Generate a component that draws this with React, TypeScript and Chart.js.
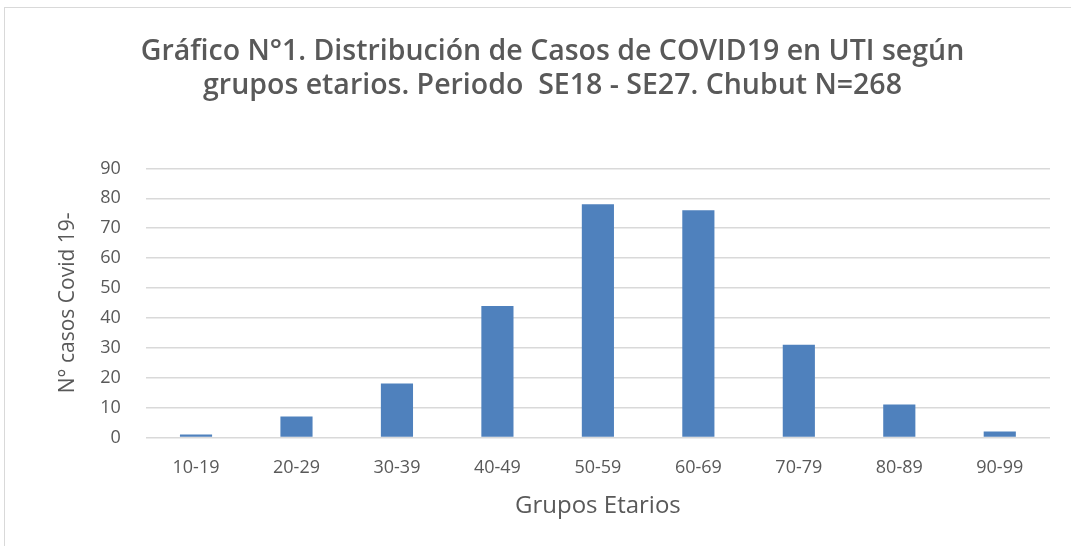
import React, { useEffect, useRef } from "react";
import { Chart, registerables } from "chart.js";

Chart.register(...registerables);

const categories = ["10-19", "20-29", "30-39", "40-49", "50-59", "60-69", "70-79", "80-89", "90-99"];
const casos = [1, 7, 18, 44, 78, 76, 31, 11, 2];
const titleLines = [
  "Gráfico N°1. Distribución de Casos de COVID19 en UTI según",
  "grupos etarios. Periodo  SE18 - SE27. Chubut N=268",
];
const yTitle = "N° casos Covid 19-";
const xTitle = "Grupos Etarios";

const FONT = "'Open Sans', 'DejaVu Sans', sans-serif";
const GRAY = "#595959";

export default function App() {
  const ref = useRef<HTMLCanvasElement>(null);
  useEffect(() => {
    if (!ref.current) return;
    const chart = new Chart(ref.current, {
      type: "bar",
      data: {
        labels: categories,
        datasets: [
          {
            data: casos,
            backgroundColor: "#4F81BD",
            borderWidth: 0,
            barPercentage: 0.64,
            categoryPercentage: 0.5,
          },
        ],
      },
      options: {
        animation: false,
        responsive: false,
        maintainAspectRatio: false,
        layout: { padding: { left: 55, right: 21, top: 35, bottom: 28 } },
        plugins: {
          legend: { display: false },
          tooltip: { enabled: false },
          title: {
            display: true,
            text: titleLines,
            color: GRAY,
            font: { family: FONT, size: 28.5, weight: "600", lineHeight: 1.2 },
            padding: { top: 0, bottom: 65 },
          },
        },
        scales: {
          x: {
            grid: { display: false },
            border: { display: false },
            ticks: { color: GRAY, font: { family: FONT, size: 18 }, padding: 12 },
            title: {
              display: true,
              text: xTitle,
              color: GRAY,
              font: { family: FONT, size: 24, lineHeight: 1 },
              padding: { top: 3, bottom: 0 },
            },
          },
          y: {
            min: 0,
            max: 90,
            ticks: { stepSize: 10, color: GRAY, font: { family: FONT, size: 18 }, padding: 25 },
            grid: { color: "#d9d9d9", lineWidth: 1.5, drawTicks: false },
            border: { display: false },
            title: {
              display: true,
              text: yTitle,
              color: GRAY,
              font: { family: FONT, size: 21 },
              padding: { top: 0, bottom: -5 },
            },
          },
        },
      },
    });
    return () => chart.destroy();
  }, []);
  return (
    <div style={{ position: "fixed", left: 0, top: 0, width: 1071, height: 546, background: "#fff" }}>
      <div
        style={{
          position: "absolute",
          left: 4,
          top: 7,
          right: 0,
          bottom: 0,
          borderLeft: "1px solid #d9d9d9",
          borderTop: "1px solid #d9d9d9",
        }}
      />
      <canvas ref={ref} width={1071} height={546} style={{ position: "absolute", left: 0, top: 0 }} />
    </div>
  );
}
